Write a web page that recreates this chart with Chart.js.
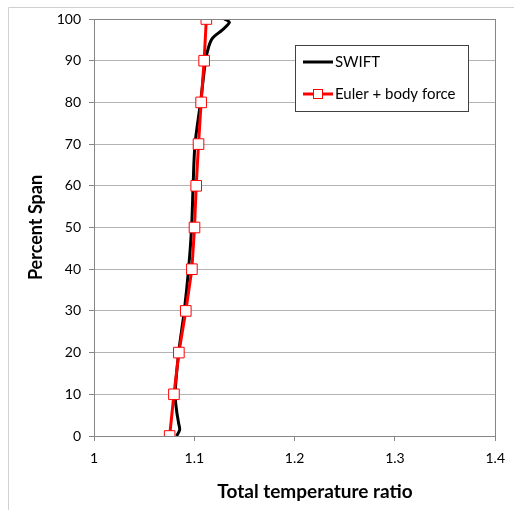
<!DOCTYPE html>
<html>
<head>
<meta charset="utf-8">
<script src="https://cdn.jsdelivr.net/npm/chart.js@4.4.1/dist/chart.umd.min.js"></script>
<style>
  html, body { margin: 0; padding: 0; background: #fff; }
  #wrap { width: 514px; height: 510px; }
</style>
</head>
<body>
<div id="wrap"><canvas id="chart" width="514" height="510"></canvas></div>
<script>
// Span positions (%) and total temperature ratio
const swiftSpan = [0, 1.5, 3, 6, 10, 20, 30, 40, 50, 60, 70, 80, 90, 93.4, 95.4, 97.4, 99.2, 100];
const swiftRatio = [1.0824, 1.0854, 1.0844, 1.0824, 1.0809, 1.0844, 1.0900, 1.0943, 1.0973, 1.0988, 1.1007, 1.1062, 1.1112, 1.1144, 1.1181, 1.1280, 1.1350, 1.1300];

const eulerSpan = [0, 10, 20, 30, 40, 50, 60, 70, 80, 90, 100];
const eulerRatio = [1.0754, 1.0797, 1.0846, 1.0915, 1.0976, 1.1002, 1.1019, 1.1042, 1.1068, 1.1098, 1.1120];

const seriesNames = ['SWIFT', 'Euler + body force'];
const xTitle = 'Total temperature ratio';
const yTitle = 'Percent Span';

const FONT = 'Lato, "Open Sans", sans-serif';

function toPoints(xs, ys) {
    return xs.map((x, i) => ({ x: x, y: ys[i] }));
}

// Frame round the whole chart, legend box and x title (sits right of centre)
const decorPlugin = {
    id: 'decor',
    beforeDraw(chart) {
        const ctx = chart.ctx;
        ctx.save();
        ctx.strokeStyle = '#d0d0d0';
        ctx.lineWidth = 1;
        ctx.beginPath();
        ctx.moveTo(8.5, 600);
        ctx.lineTo(8.5, 7.5);
        ctx.lineTo(600, 7.5);
        ctx.stroke();
        ctx.restore();
    },
    afterDatasetsDraw(chart) {
        const ctx = chart.ctx;
        const a = chart.chartArea;
        ctx.save();
        // plot area border
        ctx.strokeStyle = '#868686';
        ctx.lineWidth = 1;
        ctx.strokeRect(Math.round(a.left) + 0.5, Math.round(a.top) + 0.5,
            Math.round(a.right - a.left), Math.round(a.bottom - a.top));

        // legend
        const bx = 295, by = 45, bw = 173, bh = 66;
        ctx.fillStyle = '#fff';
        ctx.fillRect(bx, by, bw, bh);
        ctx.strokeStyle = '#404040';
        ctx.strokeRect(bx + 0.5, by + 0.5, bw, bh);

        ctx.font = '15px ' + FONT;
        ctx.textBaseline = 'middle';
        ctx.fillStyle = '#000';

        // SWIFT
        ctx.strokeStyle = '#000';
        ctx.lineWidth = 3;
        ctx.beginPath();
        ctx.moveTo(303, 62);
        ctx.lineTo(333, 62);
        ctx.stroke();
        ctx.fillText(seriesNames[0], 335, 62);

        // Euler
        ctx.strokeStyle = '#ff0000';
        ctx.beginPath();
        ctx.moveTo(303, 94);
        ctx.lineTo(333, 94);
        ctx.stroke();
        ctx.fillStyle = '#fff';
        ctx.fillRect(313, 89, 10, 10);
        ctx.lineWidth = 1;
        ctx.strokeRect(313.5, 89.5, 9, 9);
        ctx.fillStyle = '#000';
        ctx.fillText(seriesNames[1], 335, 94);

        // x axis title
        ctx.font = 'bold 19px ' + FONT;
        ctx.textAlign = 'center';
        ctx.fillText(xTitle, 315, 492);
        ctx.restore();
    }
};

new Chart(document.getElementById('chart'), {
    type: 'scatter',
    data: {
        datasets: [
            {
                label: seriesNames[0],
                data: toPoints(swiftRatio, swiftSpan),
                showLine: true,
                borderColor: '#000',
                borderWidth: 3,
                pointRadius: 0,
                tension: 0.3,
                order: 1
            },
            {
                label: seriesNames[1],
                data: toPoints(eulerRatio, eulerSpan),
                showLine: true,
                borderColor: '#ff0000',
                borderWidth: 3,
                pointStyle: 'rect',
                pointRadius: 7.5,
                pointBorderWidth: 1,
                pointBackgroundColor: '#fff',
                pointBorderColor: '#ff0000',
                order: 0
            }
        ]
    },
    options: {
        responsive: false,
        animation: false,
        layout: { padding: { top: 19, right: 17, left: 0, bottom: 0 } },
        plugins: {
            legend: { display: false },
            tooltip: { enabled: false }
        },
        scales: {
            x: {
                type: 'linear',
                min: 1,
                max: 1.4,
                ticks: {
                    stepSize: 0.1,
                    color: '#000',
                    font: { family: FONT, size: 14 },
                    padding: 9,
                    callback: (v) => String(Math.round(v * 10) / 10)
                },
                grid: {
                    drawOnChartArea: false,
                    color: '#868686',
                    tickLength: 5
                },
                border: { color: '#868686' },
                afterFit(scale) { scale.height = 74; }
            },
            y: {
                type: 'linear',
                min: 0,
                max: 100,
                ticks: {
                    stepSize: 10,
                    color: '#000',
                    font: { family: FONT, size: 14 },
                    padding: 8
                },
                grid: {
                    color: '#b4b4b4',
                    tickColor: '#868686',
                    tickLength: 5
                },
                border: { color: '#868686' },
                title: {
                    display: true,
                    text: yTitle,
                    color: '#000',
                    font: { family: FONT, size: 18, weight: 'bold' },
                    padding: { top: 25, bottom: 25 }
                },
                afterFit(scale) { scale.width = 94; }
            }
        }
    },
    plugins: [decorPlugin]
});
</script>
</body>
</html>
